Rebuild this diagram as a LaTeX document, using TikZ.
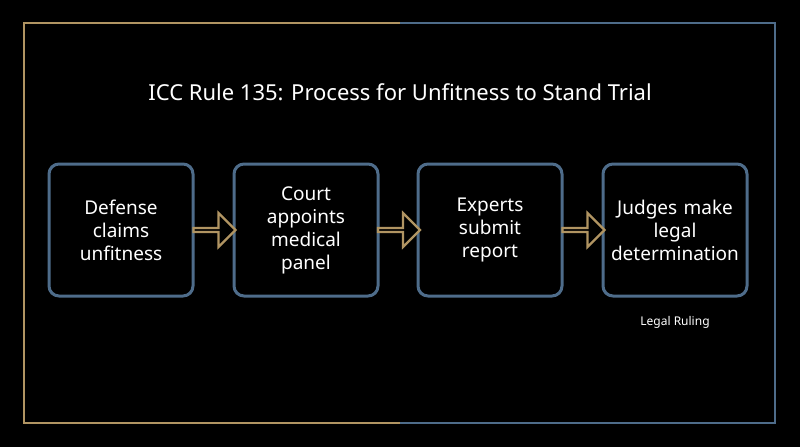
\documentclass[tikz,border=0pt]{standalone}
\usepackage{fontspec}
\setmainfont{Noto Sans}
\usetikzlibrary{shapes.arrows,calc}
\definecolor{gold}{RGB}{176,148,98}
\definecolor{steel}{RGB}{78,108,138}
\tikzset{every picture/.style={line width=0.75pt}}

\begin{document}
\begin{tikzpicture}[x=1pt,y=-1pt,
  stage/.style={draw=steel,line width=3pt,rounded corners=10pt,fill=black,
    minimum width=144pt,minimum height=132pt,text width=136pt,align=center,
    text=white,font=\fontsize{19}{23}\selectfont},
  flow/.style={single arrow,draw=gold,line width=2.2pt,fill=black,
    minimum height=42pt,minimum width=34pt,single arrow head extend=8pt,inner sep=0pt}]
%background
\fill[black] (0,0) rectangle (800,447);
\useasboundingbox (0,0) rectangle (800,447);

%frame
\draw[gold,line width=1.5pt] (400,23) -- (24,23) -- (24,423) -- (400,423);
\draw[steel,line width=1.5pt] (400,23) -- (775,23) -- (775,423) -- (400,423);

% Title
\node[text=white,font=\fontsize{22}{26}\selectfont] (title) at (400,92) {ICC Rule 135: Process for Unfitness to Stand Trial};

% Steps
\node[stage] (claim) at (121,230) {Defense\\claims\\unfitness};
\node[stage] (panel) at (306,230) {Court\\appoints\\medical\\panel};
\node[stage] (report) at (490,230) {Experts\\submit\\report};
\node[stage] (ruling) at (675,230) {Judges make\\legal\\determination};

% Arrows
\node[flow] (a1) at ($(claim.east)!0.5!(panel.west)$) {};
\node[flow] (a2) at ($(panel.east)!0.5!(report.west)$) {};
\node[flow] (a3) at ($(report.east)!0.5!(ruling.west)$) {};

% Text Node
\node[text=white,font=\fontsize{12}{14}\selectfont] (legal) at ($(ruling.south)+(0,25)$) {Legal Ruling};
\end{tikzpicture}
\end{document}
